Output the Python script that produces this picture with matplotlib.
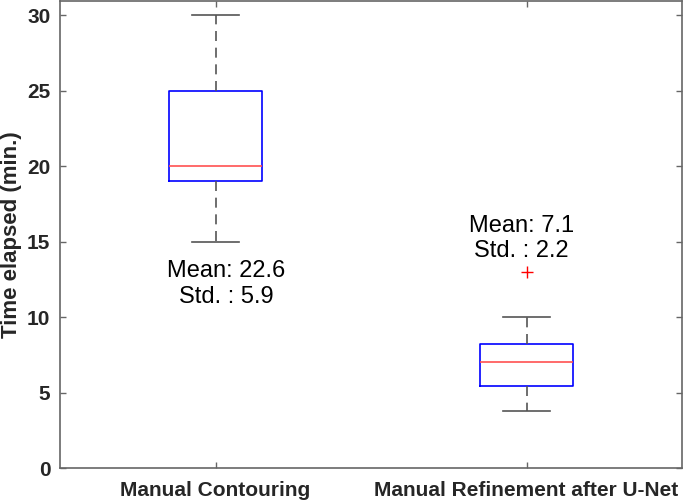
#boxplot of contouring time, manual vs refinement after u-net.
#only summary stats are available so the boxes are drawn with bxp.

import matplotlib
matplotlib.use("Agg")
import matplotlib.pyplot as plt

groups = ["Manual Contouring", "Manual Refinement after U-Net"]
whis_lo = [15.0, 3.75]
q1 = [19.0, 5.45]
medians = [20.0, 7.0]
q3 = [25.0, 8.2]
whis_hi = [30.0, 10.0]
fliers = [[], [13.0]]

means = [22.6, 7.1]
stds = [5.9, 2.2]
note_x = [1.035, 1.984]
note_y = [13.07, 16.06]  # y of the "Mean" line, "Std." sits below

plt.rcParams["font.family"] = ["Liberation Sans", "DejaVu Sans"]

fig = plt.figure(figsize=(6.85, 5.01), dpi=100)
ax = fig.add_axes([60 / 685, 33 / 501, 622 / 685, 467 / 501])

stats = []
for i in range(len(groups)):
    stats.append({
        "whislo": whis_lo[i], "q1": q1[i], "med": medians[i],
        "q3": q3[i], "whishi": whis_hi[i], "fliers": fliers[i],
    })

ax.bxp(stats, positions=[1, 2], widths=0.3, showfliers=True,
       boxprops=dict(color="#0000ff", linewidth=1.2),
       medianprops=dict(color="#ff5050", linewidth=1.2),
       whiskerprops=dict(color="#555555", linewidth=1.2, linestyle=(0, (6, 4))),
       capprops=dict(color="#555555", linewidth=1.2),
       flierprops=dict(marker="+", markeredgecolor="red", markersize=8, linestyle="none"),
       capwidths=0.15)

for i in range(len(groups)):
    ax.text(note_x[i], note_y[i], f"Mean: {means[i]}", ha="center", va="center", fontsize=17)
    ax.text(note_x[i], note_y[i] - 1.72, f"Std. : {stds[i]}", ha="center", va="center", fontsize=17)

ax.set_xlim(0.5, 2.5)
ax.set_ylim(0, 30.93)
ax.set_yticks([0, 5, 10, 15, 20, 25, 30])
ax.set_xticks([1, 2])
ax.set_xticklabels(groups, fontsize=15, fontweight="bold", color="#262626")
for lab in ax.get_yticklabels():
    lab.set_fontsize(15)
    lab.set_fontweight("bold")
    lab.set_color("#262626")
ax.set_ylabel("Time elapsed (min.)", fontsize=16, fontweight="bold", color="#262626")
ax.yaxis.set_label_coords(-0.061, 0.5)

ax.tick_params(direction="in", length=4, width=1, color="#666666", top=True, right=True)
ax.tick_params(axis="x", pad=9)
ax.tick_params(axis="y", pad=7)
for s in ax.spines.values():
    s.set_color("#666666")
    s.set_linewidth(1.2)

plt.savefig("out.png", dpi=100)
plt.close()
